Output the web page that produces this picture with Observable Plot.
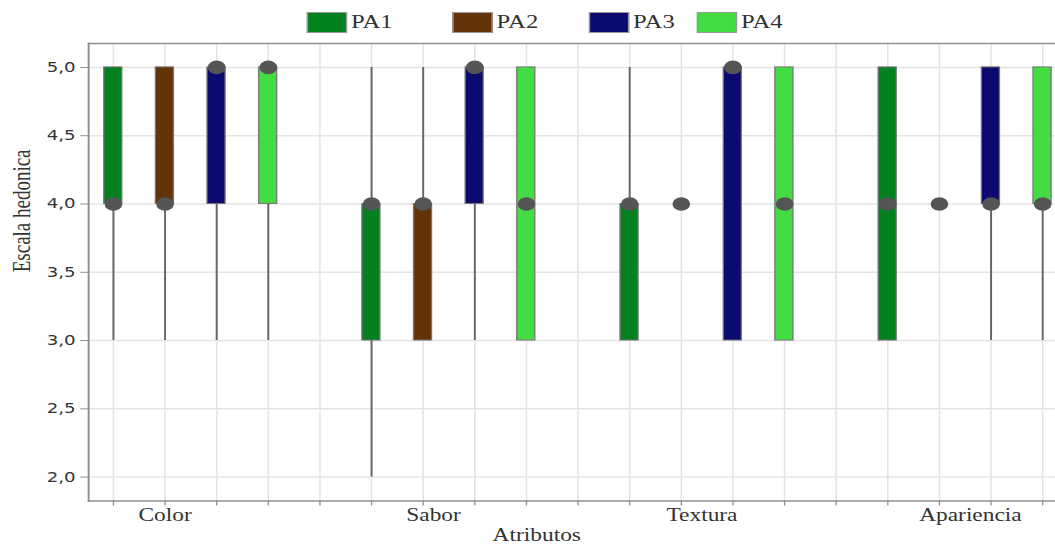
<!DOCTYPE html>
<html>
<head>
<meta charset="utf-8">
<script src="https://cdn.jsdelivr.net/npm/d3@7"></script>
<script src="https://cdn.jsdelivr.net/npm/@observablehq/plot@0.6"></script>
<style>
  html, body { margin: 0; padding: 0; background: #fff; overflow: hidden; }
  #wrap { width: 811.5px; transform: scaleX(1.3); transform-origin: 0 0; }
  #legend { position: relative; height: 40px; font-family: "Liberation Serif", serif; font-size: 19px; color: #333; }
  .item { position: absolute; top: 11px; display: flex; align-items: center; height: 22px; }
  .sw { width: 31px; height: 21px; border: 1px solid #999; box-sizing: border-box; margin-right: 3px; }
  #chart svg { display: block; }
</style>
</head>
<body>
<div id="wrap">
  <div id="legend"></div>
  <div id="chart"></div>
</div>
<script>
const atributos = ["Color", "Sabor", "Textura", "Apariencia"];
const muestras = ["PA1", "PA2", "PA3", "PA4"];
const colores = ["#038020", "#633309", "#0b0b6f", "#43dc43"];
// order: for each atributo, PA1..PA4
const minimo  = [3, 3, 3, 3,  2, 3, 3, 3,  3, 4, 3, 3,  3, 4, 3, 3];
const q1      = [4, 4, 4, 4,  3, 3, 4, 3,  3, 4, 3, 3,  3, 4, 4, 4];
const mediana = [4, 4, 5, 5,  4, 4, 5, 4,  4, 4, 5, 4,  4, 4, 4, 4];
const q3      = [5, 5, 5, 5,  4, 4, 5, 5,  4, 4, 5, 5,  5, 4, 5, 5];
const maximo  = [5, 5, 5, 5,  5, 5, 5, 5,  5, 4, 5, 5,  5, 4, 5, 5];
const yTicks = [2, 2.5, 3, 3.5, 4, 4.5, 5];
const yTitulo = "Escala hedonica";
const xTitulo = "Atributos";

const data = atributos.flatMap((a, g) => muestras.map((m, s) => {
  const i = g * 4 + s;
  return { atributo: a, muestra: m, slot: g * 5 + s,
           min: minimo[i], q1: q1[i], mediana: mediana[i], q3: q3[i], max: maximo[i] };
}));
const slots = d3.range(atributos.length * 5 - 1);

// legend
const legendLeft = [236, 348, 453, 536];
const legend = document.getElementById("legend");
muestras.forEach((m, i) => {
  const it = document.createElement("div");
  it.className = "item";
  it.style.left = legendLeft[i] + "px";
  const sw = document.createElement("div");
  sw.className = "sw";
  sw.style.background = colores[i];
  const tx = document.createElement("span");
  tx.textContent = m;
  it.appendChild(sw); it.appendChild(tx);
  legend.appendChild(it);
});

const serif = "Liberation Serif";
const chart = Plot.plot({
  width: 811.5,
  height: 509,
  marginLeft: 67.7,
  marginRight: 0,
  marginTop: 3,
  marginBottom: 48.5,
  x: { domain: [-0.48, 18.25], axis: null },
  y: { domain: [1.825, 5.175], axis: null },
  color: { domain: muestras, range: colores },
  style: { fontFamily: "DejaVu Sans", fontSize: "14px", color: "#333", background: "transparent" },
  marks: [
    Plot.gridX(slots, { stroke: "#e4e4e4", strokeOpacity: 1, strokeWidth: 1.2 }),
    Plot.gridY(yTicks, { stroke: "#e4e4e4", strokeOpacity: 1, strokeWidth: 1.5 }),
    Plot.frame({ anchor: "left", stroke: "#8f8f8f", strokeWidth: 1.5 }),
    Plot.frame({ anchor: "top", stroke: "#8f8f8f", strokeWidth: 1.5 }),
    Plot.frame({ anchor: "bottom", stroke: "#8f8f8f", strokeWidth: 1.5 }),
    Plot.axisY(yTicks, { label: null, tickFormat: d => d3.format(".1f")(d).replace(".", ","), tickSize: 6, tickPadding: 4, stroke: "#8f8f8f", fill: "#333", fontSize: 14 }),
    Plot.axisX(slots, { label: null, tickSize: 5, tickFormat: () => "", stroke: "#8f8f8f" }),
    Plot.ruleX(data.filter(d => d.min < d.max), { x: "slot", y1: "min", y2: "max", stroke: "#666", strokeWidth: 1.5 }),
    Plot.rect(data.filter(d => d.q1 < d.q3), { x1: d => d.slot - 0.175, x2: d => d.slot + 0.175, y1: "q1", y2: "q3", fill: "muestra", stroke: "#777", strokeWidth: 1 }),
    Plot.dot(data, { x: "slot", y: "mediana", r: 6.8, fill: "#555", stroke: null }),
    Plot.text(atributos, { x: (d, i) => 1 + i * 5.2, frameAnchor: "bottom", dy: 20, fontFamily: serif, fontSize: 18, fill: "#333" }),
    Plot.text([xTitulo], { x: 8.2, frameAnchor: "bottom", dy: 40, fontFamily: serif, fontSize: 18, fill: "#333" }),
    Plot.text([yTitulo], { frameAnchor: "left", dx: -51, rotate: -90, fontFamily: serif, fontSize: 19, fill: "#333" })
  ]
});
document.getElementById("chart").appendChild(chart);
</script>
</body>
</html>
